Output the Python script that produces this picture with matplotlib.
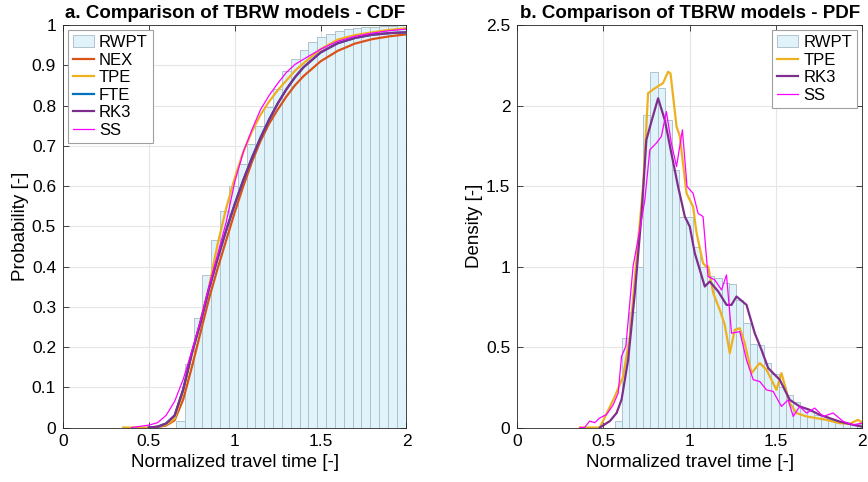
import numpy as np
import matplotlib
matplotlib.use("Agg")
import matplotlib.pyplot as plt
from matplotlib.patches import Patch
from matplotlib.lines import Line2D

plt.rcParams['font.family'] = ['Liberation Sans', 'DejaVu Sans']

# ---- RWPT histograms ----
cdf_bin_start = 0.658
cdf_bin_width = 0.0514
cdf_bars = [0.015, 0.159, 0.271, 0.378, 0.465, 0.538, 0.600, 0.656, 0.705, 0.748,
            0.796, 0.841, 0.887, 0.915, 0.938, 0.957, 0.971, 0.979, 0.986, 0.989,
            0.992, 0.994, 0.996, 0.997, 0.998, 0.999, 0.999]

pdf_bin_start = 0.566
pdf_bin_width = 0.0413
pdf_bars = [0.04, 0.555, 0.72, 1.0, 1.94, 2.21, 2.11, 1.91, 1.6, 1.31,
            1.31, 1.12, 1.0, 0.94, 0.93, 0.90, 0.89, 0.79, 0.65, 0.52,
            0.51, 0.40, 0.33, 0.25, 0.20, 0.16, 0.12, 0.10, 0.08, 0.07,
            0.05, 0.04, 0.03, 0.02, 0.02]

# ---- CDF curves ----
cdf_x = [0.35, 0.40, 0.45, 0.50, 0.55, 0.60, 0.65, 0.70, 0.75, 0.80, 0.85, 0.90, 0.95, 1.00,
         1.05, 1.10, 1.15, 1.20, 1.25, 1.30, 1.35, 1.40, 1.50, 1.60, 1.70, 1.80, 1.90, 2.00]
cdf_nex = [np.nan, np.nan, np.nan, 0.0, 0.001, 0.005, 0.018, 0.07, 0.15, 0.235, 0.32, 0.395, 0.465, 0.535,
           0.60, 0.66, 0.712, 0.755, 0.79, 0.822, 0.85, 0.873, 0.91, 0.936, 0.954, 0.965, 0.972, 0.977]
cdf_tpe = [0.0, 0.0, 0.0, 0.0, 0.002, 0.007, 0.022, 0.09, 0.18, 0.265, 0.35, 0.455, 0.545, 0.62,
           0.685, 0.735, 0.777, 0.81, 0.838, 0.862, 0.886, 0.905, 0.94, 0.964, 0.975, 0.982, 0.988, 0.992]
cdf_rk3 = [np.nan, np.nan, np.nan, 0.0, 0.002, 0.01, 0.03, 0.095, 0.185, 0.26, 0.345, 0.42, 0.49, 0.555,
           0.615, 0.67, 0.72, 0.765, 0.805, 0.84, 0.87, 0.895, 0.932, 0.955, 0.968, 0.976, 0.98, 0.982]
cdf_fte = cdf_rk3
cdf_ss = [np.nan, 0.0, 0.003, 0.006, 0.012, 0.03, 0.065, 0.12, 0.19, 0.265, 0.35, 0.43, 0.51, 0.61,
          0.685, 0.74, 0.79, 0.825, 0.855, 0.882, 0.902, 0.915, 0.94, 0.96, 0.972, 0.98, 0.986, 0.99]

# ---- PDF curves ----
tpe_x = [0.363, 0.479, 0.566, 0.614, 0.653, 0.691, 0.73, 0.759, 0.788, 0.846, 0.875, 0.889, 0.924,
         0.943, 0.982, 1.02, 1.04, 1.078, 1.097, 1.108, 1.137, 1.175, 1.204, 1.233, 1.262, 1.291,
         1.32, 1.359, 1.407, 1.446, 1.504, 1.533, 1.581, 1.62, 1.678, 1.736, 1.794, 1.871, 1.929,
         1.977, 2.0]
tpe_y = [0.0, 0.0, 0.193, 0.317, 0.565, 1.04, 1.497, 2.077, 2.1, 2.14, 2.21, 2.2, 1.87,
         1.81, 1.455, 1.372, 1.21, 1.02, 1.0, 1.0, 0.835, 0.731, 0.638, 0.462, 0.607, 0.617,
         0.524, 0.338, 0.4, 0.359, 0.234, 0.338, 0.152, 0.09, 0.069, 0.058, 0.048, 0.027, 0.023,
         0.048, 0.031]

rk3_x = [0.479, 0.537, 0.576, 0.605, 0.643, 0.682, 0.72, 0.749, 0.778, 0.817, 0.856, 0.894, 0.933,
         0.972, 1.001, 1.03, 1.059, 1.088, 1.117, 1.166, 1.214, 1.243, 1.272, 1.33, 1.378, 1.417,
         1.456, 1.523, 1.581, 1.639, 1.697, 1.755, 1.813, 1.871, 1.948, 2.0]
rk3_y = [0.0, 0.04, 0.09, 0.174, 0.42, 0.835, 1.311, 1.787, 1.9, 2.045, 1.91, 1.704, 1.497,
         1.311, 1.248, 1.083, 0.98, 0.876, 0.907, 0.845, 0.762, 0.762, 0.814, 0.762, 0.586, 0.483,
         0.369, 0.297, 0.172, 0.131, 0.11, 0.079, 0.058, 0.037, 0.017, 0.006]

ss_x = [0.363, 0.39, 0.42, 0.449, 0.479, 0.517, 0.556, 0.585, 0.605, 0.63, 0.672, 0.711, 0.74,
        0.769, 0.807, 0.836, 0.865, 0.894, 0.924, 0.958, 0.985, 1.02, 1.049, 1.078, 1.107, 1.146,
        1.185, 1.214, 1.243, 1.291, 1.33, 1.369, 1.407, 1.446, 1.485, 1.533, 1.572, 1.601, 1.639,
        1.678, 1.726, 1.775, 1.833, 1.891, 1.948, 2.0]
ss_y = [0.0, 0.0, 0.04, 0.03, 0.06, 0.08, 0.14, 0.213, 0.443, 0.505, 1.003, 1.23, 1.414,
        1.725, 1.767, 1.808, 1.963, 1.767, 1.621, 1.849, 1.497, 1.455, 1.331, 1.31, 0.938, 0.917,
        0.855, 0.948, 0.586, 0.596, 0.42, 0.297, 0.286, 0.234, 0.224, 0.131, 0.172, 0.069, 0.131,
        0.09, 0.121, 0.069, 0.09, 0.038, 0.017, 0.027]

c_nex = '#D95319'
c_tpe = '#EDB120'
c_fte = '#0072BD'
c_rk3 = '#7E2F8E'
c_ss = '#FF00FF'
hist_face = '#E0F2FA'
hist_edge = '#A7BCC6'

fig = plt.figure(figsize=(8.68, 4.82), dpi=100)
ax1 = fig.add_axes([0.0726, 0.113, 0.3957, 0.835])
ax2 = fig.add_axes([0.596, 0.113, 0.397, 0.835])


def style(ax):
    ax.grid(True, color='#E6E6E6', linewidth=0.8)
    ax.set_axisbelow(True)
    ax.tick_params(direction='in', top=True, right=True, labelsize=12.5,
                   color='#262626', length=4, width=0.6, pad=5)
    for s in ax.spines.values():
        s.set_color('#262626')
        s.set_linewidth(0.6)


def legend(ax, handles, labels, loc):
    leg = ax.legend(handles, labels, loc=loc, fontsize=12, fancybox=False,
                    framealpha=1, edgecolor='#A0A0A0', handlelength=1.25,
                    handletextpad=0.3, labelspacing=0.15, borderpad=0.3,
                    borderaxespad=0.3)
    leg.get_frame().set_linewidth(0.8)
    return leg


# --- a. CDF ---
cdf_edges = cdf_bin_start + cdf_bin_width * np.arange(len(cdf_bars))
ax1.bar(cdf_edges, cdf_bars, width=cdf_bin_width, align='edge',
        color=hist_face, edgecolor=hist_edge, linewidth=0.6, zorder=2)
ax1.plot(cdf_x, cdf_nex, color=c_nex, lw=1.6, zorder=3)
ax1.plot(cdf_x, cdf_tpe, color=c_tpe, lw=1.6, zorder=4)
ax1.plot(cdf_x, cdf_fte, color=c_fte, lw=1.6, zorder=5)
ax1.plot(cdf_x, cdf_rk3, color=c_rk3, lw=1.6, zorder=6)
ax1.plot(cdf_x, cdf_ss, color=c_ss, lw=0.9, zorder=7)
style(ax1)
ax1.set_xlim(0, 2)
ax1.set_ylim(0, 1)
ax1.set_xticks([0, 0.5, 1, 1.5, 2])
ax1.set_xticklabels(['0', '0.5', '1', '1.5', '2'])
ax1.set_yticks(np.arange(0, 1.01, 0.1))
ax1.set_yticklabels(['0', '0.1', '0.2', '0.3', '0.4', '0.5', '0.6', '0.7', '0.8', '0.9', '1'])
ax1.set_xlabel('Normalized travel time [-]', fontsize=13.5, labelpad=3)
ax1.set_ylabel('Probability [-]', fontsize=13.5, labelpad=2)
ax1.set_title('a. Comparison of TBRW models - CDF', fontsize=13.5, fontweight='bold', pad=5)

handles1 = [Patch(facecolor=hist_face, edgecolor=hist_edge, linewidth=0.6),
            Line2D([], [], color=c_nex, lw=1.6),
            Line2D([], [], color=c_tpe, lw=1.6),
            Line2D([], [], color=c_fte, lw=1.6),
            Line2D([], [], color=c_rk3, lw=1.6),
            Line2D([], [], color=c_ss, lw=0.9)]
legend(ax1, handles1, ['RWPT', 'NEX', 'TPE', 'FTE', 'RK3', 'SS'], 'upper left')

# --- b. PDF ---
pdf_edges = pdf_bin_start + pdf_bin_width * np.arange(len(pdf_bars))
ax2.bar(pdf_edges, pdf_bars, width=pdf_bin_width, align='edge',
        color=hist_face, edgecolor=hist_edge, linewidth=0.6, zorder=2)
ax2.plot(tpe_x, tpe_y, color=c_tpe, lw=1.6, zorder=4)
ax2.plot(rk3_x, rk3_y, color=c_rk3, lw=1.6, zorder=5)
ax2.plot(ss_x, ss_y, color=c_ss, lw=0.9, zorder=6)
style(ax2)
ax2.set_xlim(0, 2)
ax2.set_ylim(0, 2.5)
ax2.set_xticks([0, 0.5, 1, 1.5, 2])
ax2.set_xticklabels(['0', '0.5', '1', '1.5', '2'])
ax2.set_yticks([0, 0.5, 1, 1.5, 2, 2.5])
ax2.set_yticklabels(['0', '0.5', '1', '1.5', '2', '2.5'])
ax2.set_xlabel('Normalized travel time [-]', fontsize=13.5, labelpad=3)
ax2.set_ylabel('Density [-]', fontsize=13.5, labelpad=2)
ax2.set_title('b. Comparison of TBRW models - PDF', fontsize=13.5, fontweight='bold', pad=5)

handles2 = [Patch(facecolor=hist_face, edgecolor=hist_edge, linewidth=0.6),
            Line2D([], [], color=c_tpe, lw=1.6),
            Line2D([], [], color=c_rk3, lw=1.6),
            Line2D([], [], color=c_ss, lw=0.9)]
legend(ax2, handles2, ['RWPT', 'TPE', 'RK3', 'SS'], 'upper right')

fig.savefig('out.png', dpi=100)
